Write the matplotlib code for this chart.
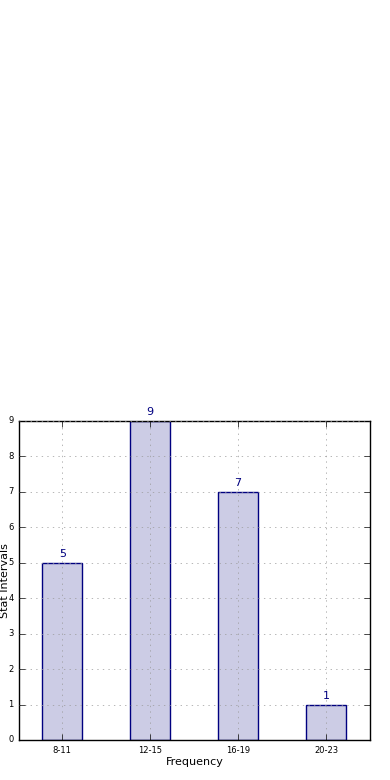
import numpy as np
import matplotlib
matplotlib.use('Agg')
import matplotlib.pyplot as plt

plt.style.use('classic')

categories = ['8-11', '12-15', '16-19', '20-23']
counts = [5, 9, 7, 1]

fig = plt.figure(figsize=(3.9, 7.8), dpi=100)
fig.patch.set_facecolor('white')
ax = fig.add_axes([0.049, 0.0513, 0.9, 0.409])

x = np.arange(len(categories))
ax.bar(x, counts, width=0.45, align='center', color='navy', alpha=0.2,
       edgecolor='none')
ax.bar(x, counts, width=0.45, align='center', fill=False, edgecolor='navy', linewidth=1)

for xi, c in zip(x, counts):
    ax.text(xi, c + 0.1, str(c), ha='center', va='bottom', color='navy', fontsize=8)

ax.set_xlim(-0.49, 3.5)
ax.set_ylim(0, 9)
ax.set_xticks(x)
ax.set_xticklabels(categories)
ax.set_yticks(range(0, 10))
ax.tick_params(labelsize=6)
ax.grid(True, linestyle=':', color='#999999')
ax.set_xlabel('Frequency', fontsize=8, labelpad=2)
ax.set_ylabel('Stat Intervals', fontsize=8)
ax.yaxis.set_label_coords(-0.027, 0.5)

fig.savefig('out.png', dpi=100, facecolor='white')
